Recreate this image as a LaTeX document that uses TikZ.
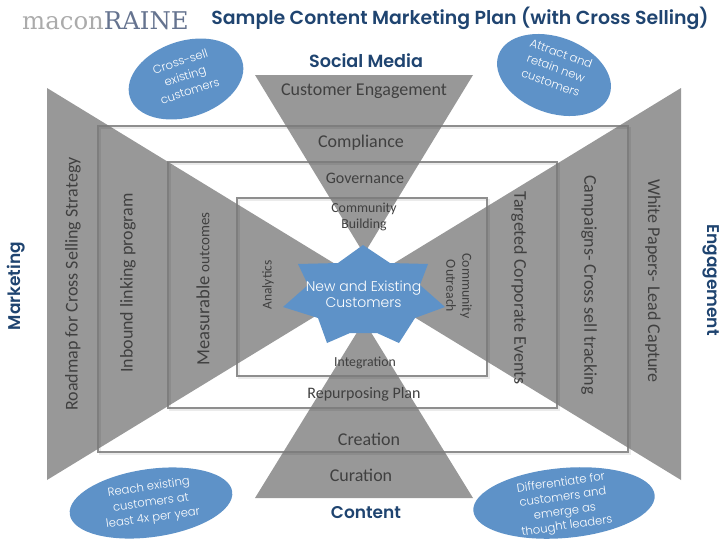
\documentclass[tikz,border=0pt]{standalone}
\usepackage{fontspec}
\setmainfont{Carlito}
\newfontfamily\headf{Poppins}[UprightFont=* SemiBold]
\newfontfamily\thinf{Poppins}[UprightFont=* Light]
\newfontfamily\slabf{DejaVu Serif}
\definecolor{tri}{HTML}{989898}
\definecolor{blu}{HTML}{5E92C8}
\definecolor{navy}{HTML}{1F4470}
\definecolor{ink}{HTML}{404040}
\definecolor{logoA}{HTML}{ABABAB}
\definecolor{logoB}{HTML}{65738F}
\definecolor{frm}{HTML}{7A7A7A}
\usetikzlibrary{shapes.geometric}
\tikzset{x=1pt,y=-1pt,
 tribox/.style={fill=tri,draw=none},
 frameline/.style={draw=frm,opacity=.85,line width=1.7pt},
 frameshade/.style={draw=black,opacity=.08,line width=1.5pt},
 head/.style={font=\headf\fontsize{17}{17}\selectfont,text=navy,inner sep=0pt},
 lab/.style={text=ink,inner sep=0pt,align=center},
 big/.style={lab,font=\fontsize{18}{19}\selectfont},
 mid/.style={lab,font=\fontsize{16}{19}\selectfont},
 small/.style={lab,font=\fontsize{13.8}{16}\selectfont},
 oval/.style={ellipse,fill=blu,draw=none,inner sep=0pt},
 ovaltext/.style={text=white,inner sep=0pt,align=center,font=\thinf\fontsize{11.6}{15.5}\selectfont}}
\begin{document}
\begin{tikzpicture}
\useasboundingbox (0,0) rectangle (728,546);
% triangles
\fill[tribox] (47,88) -- (47,480) -- (368,284) -- cycle;
\fill[tribox] (681,88) -- (681,480) -- (360,284) -- cycle;
\fill[tribox] (255,75) -- (473,75) -- (364,254) -- cycle;
\fill[tribox] (255,498) -- (473,498) -- (364,321) -- cycle;
% frames
\draw[frameshade] (100,128) rectangle (630,454);
\draw[frameshade] (170,164) rectangle (559,410);
\draw[frameshade] (239,200) rectangle (489,378);
\draw[frameline] (98,126) rectangle (628,452);
\draw[frameline] (168,162) rectangle (557,408);
\draw[frameline] (237,198) rectangle (487,376);
% star
\fill[blu] (363,245) -- (390,263) -- (428,264) -- (420,285) -- (445,307) -- (415,318) -- (399,343) -- (377,333) -- (350,333) -- (327,343) -- (318,318) -- (283,307) -- (308,285) -- (298,264) -- (338,263) -- cycle;
\node[lab,text=white,font=\thinf\fontsize{14}{16}\selectfont] (hubt) at (363.5,294) {New and Existing\\Customers};
% headings
\node[inner sep=0pt,anchor=west,font=\slabf\fontsize{24.4}{24}\selectfont] (logo) at (22,21) {\textcolor{logoA}{macon}\textcolor{logoB}{RAINE}};
\node[head,font=\headf\fontsize{18.9}{19}\selectfont] (title) at (460,18) {Sample Content Marketing Plan (with Cross Selling)};
\node[head,font=\headf\fontsize{17.6}{18}\selectfont] (sm) at (366,61) {Social Media};
\node[head] (ct) at (366,513) {Content};
\node[head,rotate=90] (mk) at (16,286) {Marketing};
\node[head,rotate=-90] (en) at (711,280) {Engagement};
% top labels
\node[big] (a1) at (364,91) {Customer Engagement};
\node[big] (a2) at (361,143) {Compliance};
\node[mid] (a3) at (365,178) {Governance};
\node[small] (a4) at (364,217) {Community\\Building};
% bottom labels
\node[small] (b1) at (365,363) {Integration};
\node[mid] (b2) at (364,394) {Repurposing Plan};
\node[big] (b3) at (369,439) {Creation};
\node[big] (b4) at (361,475) {Curation};
% left labels
\node[big,rotate=90] (l1) at (73,284) {Roadmap for Cross Selling Strategy};
\node[big,rotate=90] (l2) at (128,283) {Inbound linking program};
\node[lab,rotate=90] (l3) at (203,289) {\fontsize{18.6}{19}\selectfont Measurable \fontsize{15}{19}\selectfont outcomes};
\node[lab,rotate=90,font=\fontsize{13.5}{14}\selectfont] (l4) at (268,285) {Analytics};
% right labels
\node[small,rotate=-90] (r4) at (459,286) {Community\\Outreach};
\node[big,rotate=-90] (r3) at (519,288) {Targeted Corporate Events};
\node[big,rotate=-90] (r2) at (589,285) {Campaigns- Cross sell tracking};
\node[big,rotate=-90] (r1) at (653,281) {White Papers- Lead Capture};
% ovals
\node[oval,rotate=18,minimum width=118pt,minimum height=76pt] (o1) at (186,79) {};
\node[ovaltext,rotate=18] (o1t) at (185,76) {Cross-sell\\existing\\customers};
\node[oval,rotate=-20,minimum width=118pt,minimum height=76pt] (o2) at (554,75) {};
\node[ovaltext,rotate=-20] (o2t) at (556,68) {Attract and\\retain new\\customers};
\node[oval,rotate=8,minimum width=164pt,minimum height=68pt] (o3) at (151,503) {};
\node[ovaltext,rotate=8] (o3t) at (151,503) {Reach existing\\customers at\\least 4x per year};
\node[oval,rotate=5,minimum width=182pt,minimum height=70pt] (o4) at (564,503) {};
\node[ovaltext,rotate=8,font=\thinf\fontsize{11.6}{14.5}\selectfont] (o4t) at (564,505) {Differentiate for\\customers and\\emerge as\\thought leaders};
\end{tikzpicture}
\end{document}
